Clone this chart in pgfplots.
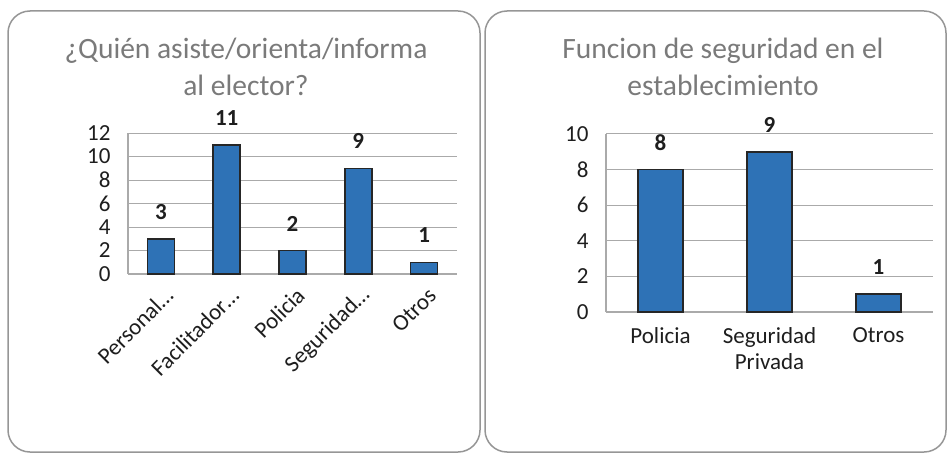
\documentclass[border=0pt]{standalone}
\usepackage{fontspec}
\setmainfont{Carlito}
\usepackage{pgfplots}
\pgfplotsset{compat=1.18}
\definecolor{barblue}{RGB}{46,114,182}
\definecolor{titlegray}{RGB}{122,122,122}
\definecolor{gridgray}{RGB}{170,170,170}
\definecolor{framegray}{RGB}{150,150,150}
\definecolor{txt}{RGB}{30,30,30}

\pgfplotsset{
  excelbar/.style={
    scale only axis,
    axis x line*=bottom, axis y line*=left,
    axis line style={gridgray, line width=1.2pt},
    ymajorgrids, grid style={gridgray, line width=1pt},
    major tick length=0pt,
    ybar, ymin=0,
    xtick=data,
    /pgf/number format/assume math mode=true,
    tick label style={font=\fontsize{23}{26}\selectfont, text=txt},
    yticklabel style={xshift=-14pt},
    nodes near coords,
    nodes near coords style={font=\bfseries\fontsize{23}{26}\selectfont, text=txt, anchor=center, yshift=27pt},
  }
}

\begin{document}
\begin{tikzpicture}[x=1pt,y=1pt]
\useasboundingbox (0,0) rectangle (949,453);
% panel frames
\draw[framegray, line width=1.5pt, rounded corners=22pt] (8,1) rectangle (480,442);
\draw[framegray, line width=1.5pt, rounded corners=22pt] (485,1) rectangle (946,442);

% titles
\node[align=center, text=titlegray, font=\fontsize{29.5}{37}\selectfont] at (246,386) {¿Quién asiste/orienta/informa\\al elector?};
\node[align=center, text=titlegray, font=\fontsize{29.5}{37}\selectfont] at (723,386) {Funcion de seguridad en el\\establecimiento};

% left chart
\begin{axis}[excelbar,
  at={(128pt,179pt)}, anchor=south west,
  width=329pt, height=141pt,
  bar width=27pt,
  xmin=-0.5, xmax=4.5,
  ymax=12, ytick={0,2,...,12},
  xticklabels={Personal…,Facilitador…,Policia,Seguridad…,Otros},
  xticklabel style={xshift=9pt, yshift=-17pt, rotate=45, anchor=east, inner sep=1pt},
]
\addplot[fill=barblue, draw=black!85, line width=1.5pt] coordinates {(0,3) (1,11) (2,2) (3,9) (4,1)};
\end{axis}

% right chart
\begin{axis}[excelbar,
  at={(606pt,141pt)}, anchor=south west,
  width=327pt, height=178pt,
  bar width=45pt,
  xmin=-0.5, xmax=2.5,
  ymax=10, ytick={0,2,...,10},
  xticklabels={Policia,Seguridad\\Privada,Otros},
  xticklabel style={align=center, anchor=north, yshift=-12pt},
]
\addplot[fill=barblue, draw=black!85, line width=1.5pt] coordinates {(0,8) (1,9) (2,1)};
\end{axis}
\end{tikzpicture}
\end{document}
